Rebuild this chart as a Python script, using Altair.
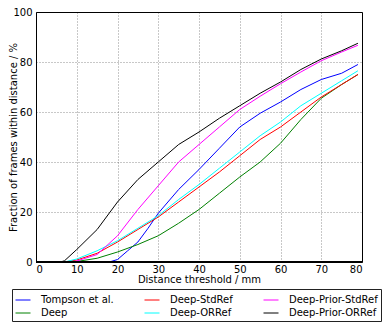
import altair as alt
import pandas as pd

series_names = ["Tompson et al.", "Deep", "Deep-StdRef", "Deep-ORRef",
                "Deep-Prior-StdRef", "Deep-Prior-ORRef"]

tompson_x = [0, 18, 20, 22.5, 25, 27.5, 30, 35, 40, 45, 50, 55, 60, 65, 70, 75, 79]
tompson_y = [0, 0, 1, 4.5, 8, 13.5, 19.5, 29, 37, 45.5, 54, 59.5, 64, 69, 73, 75.5, 79]

deep_x = [0, 9, 10, 15, 20, 25, 30, 35, 40, 45, 50, 55, 60, 65, 70, 75, 79]
deep_y = [0, 0, 0.2, 1.5, 4, 7, 10.5, 15.5, 21, 27.5, 34, 40, 47.5, 57, 65.5, 71, 75]

stdref_x = [0, 7, 10, 15, 20, 25, 30, 35, 40, 45, 50, 55, 60, 65, 70, 75, 79]
stdref_y = [0, 0, 0.8, 3.5, 8, 13, 18, 24, 30, 36, 42.5, 49, 54, 60, 66, 71, 75]

orref_x = [0, 7, 10, 15, 20, 25, 30, 35, 40, 45, 50, 55, 60, 65, 70, 75, 79]
orref_y = [0, 0, 1.2, 4.5, 8.5, 13.5, 18.5, 25, 31, 37.5, 44, 50.5, 56, 62.5, 67.5, 72.5, 76.5]

prior_std_x = [0, 8, 10, 15, 20, 25, 30, 35, 40, 45, 50, 55, 60, 65, 70, 75, 79]
prior_std_y = [0, 0, 0.4, 3, 10.5, 21, 30.5, 40, 47, 54, 61, 66.3, 71.3, 76, 80.5, 84, 86.7]

prior_or_x = [0, 6, 7, 10, 15, 20, 25, 30, 35, 40, 45, 50, 55, 60, 65, 70, 75, 79]
prior_or_y = [0, 0, 0.5, 5, 13, 24, 33, 40, 47, 52, 57.5, 62.5, 67.5, 72, 77, 81.2, 84.5, 87.5]

series_x = [tompson_x, deep_x, stdref_x, orref_x, prior_std_x, prior_or_x]
series_y = [tompson_y, deep_y, stdref_y, orref_y, prior_std_y, prior_or_y]

x_ticks = [0, 10, 20, 30, 40, 50, 60, 70, 80]
y_ticks = [0, 20, 40, 60, 80, 100]

series_colors = ["#0000ff", "#008000", "#ff0000", "#00ffff", "#ff00ff", "#000000"]

rows = []
for name, xs, ys in zip(series_names, series_x, series_y):
    for xv, yv in zip(xs, ys):
        rows.append({"series": name, "x": xv, "y": yv})
df = pd.DataFrame(rows)

W, H = 326, 250

lines = alt.Chart(df).mark_line(strokeWidth=1).encode(
    x=alt.X("x:Q", scale=alt.Scale(domain=[0, 80], nice=False),
            axis=alt.Axis(values=x_ticks, title="Distance threshold / mm")),
    y=alt.Y("y:Q", scale=alt.Scale(domain=[0, 100], nice=False),
            axis=alt.Axis(values=y_ticks, title="Fraction of frames within distance / %",
                          titleX=-23, titleY=H / 2, titleBaseline="middle",
                          titleAlign="center", titleAngle=270)),
    color=alt.Color("series:N",
                    scale=alt.Scale(domain=series_names, range=series_colors),
                    legend=alt.Legend(title=None, orient="none", legendX=-24, legendY=277,
                                      columns=3, symbolType="stroke", symbolSize=225,
                                      symbolStrokeWidth=1, labelOffset=10,
                                      columnPadding=28, rowPadding=0, padding=3,
                                      strokeColor="#222222", labelFontSize=10,
                                      labelColor="black", labelFont="DejaVu Sans")),
)

spine = alt.Chart(df).mark_rule(color="black", strokeWidth=1).encode(
    y=alt.datum(0)
)

chart = alt.layer(lines, spine).properties(
    width=W, height=H,
    autosize=alt.AutoSizeParams(type="none"),
    padding={"left": 28, "top": 4, "right": 20, "bottom": 62},
).configure_view(
    stroke="black", strokeWidth=1
).configure_axis(
    domain=False, ticks=False, grid=True, gridColor="#000000", gridOpacity=0.55,
    gridDash=[1, 2], gridWidth=0.8,
    labelFont="DejaVu Sans", labelFontSize=10, labelColor="black",
    titleFont="DejaVu Sans", titleFontSize=10, titleColor="black", titleFontWeight="normal",
).configure_axisY(
    labelPadding=4
).configure_axisX(
    titlePadding=0, labelPadding=2
)

chart.save("out.html", embed_options={"renderer": "svg", "actions": False})
